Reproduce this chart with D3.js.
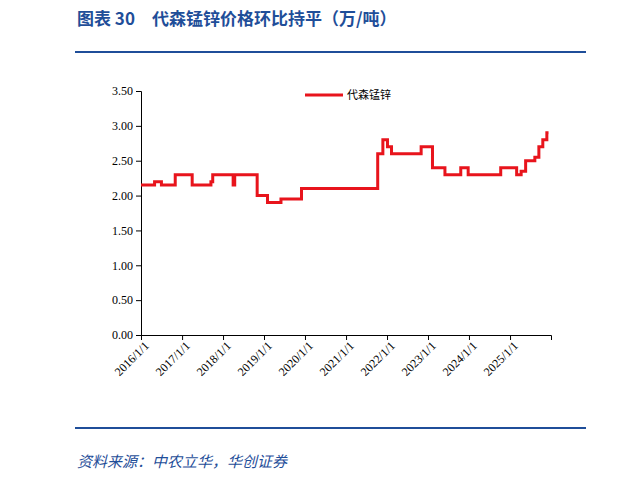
<!DOCTYPE html>
<html><head><meta charset="utf-8">
<script src="https://cdn.jsdelivr.net/npm/d3@7"></script>
<style>body{margin:0;background:#fff}</style>
</head><body>
<script>
// 代森锰锌 price steps (万/吨)
const dates = ['2016-01-01','2016-05-01','2016-07-01','2016-11-01','2017-04-01','2017-09-15','2017-10-01','2018-04-01','2018-04-15','2018-11-01','2019-02-01','2019-06-01','2019-12-01','2021-10-10','2021-11-25','2022-01-05','2022-02-10','2022-11-01','2023-02-10','2023-06-01','2023-10-20','2023-12-25','2024-10-10','2025-03-01','2025-04-10','2025-05-20','2025-08-10','2025-09-15','2025-10-20','2025-11-25','2025-12-10']
const prices = [2.15,2.2,2.15,2.3,2.15,2.2,2.3,2.15,2.3,2.0,1.9,1.95,2.1,2.6,2.8,2.7,2.6,2.7,2.4,2.3,2.4,2.3,2.4,2.3,2.35,2.5,2.55,2.7,2.8,2.9,2.9]
const yTicks = [0, 0.5, 1, 1.5, 2, 2.5, 3, 3.5]
const xTicks = ['2016/1/1','2017/1/1','2018/1/1','2019/1/1','2020/1/1','2021/1/1','2022/1/1','2023/1/1','2024/1/1','2025/1/1']

const parse = d3.timeParse('%Y-%m-%d')
const parseTick = d3.timeParse('%Y/%m/%d')
const data = dates.map((d, i) => ({ date: parse(d), value: prices[i] }))

const svg = d3.select('body').append('svg').attr('width', 620).attr('height', 481)
const blue = '#1f4e99'

svg.append('text').attr('x', 77).attr('y', 25).attr('fill', blue)
  .style('font-family', 'Noto Sans CJK SC').style('font-weight', 'bold').style('font-size', '17px')
  .text('图表 30　代森锰锌价格环比持平（万/吨）')
svg.append('line').attr('x1', 75).attr('x2', 586).attr('y1', 52).attr('y2', 52).attr('stroke', blue).attr('stroke-width', 2)
svg.append('line').attr('x1', 75).attr('x2', 586).attr('y1', 428).attr('y2', 428).attr('stroke', blue).attr('stroke-width', 2)
svg.append('text').attr('x', 77).attr('y', 467).attr('fill', blue)
  .style('font-family', 'Noto Sans CJK SC').style('font-style', 'italic').style('font-size', '15px')
  .text('资料来源：中农立华，华创证券')

const x = d3.scaleTime().domain([parse('2016-01-01'), parse('2026-01-01')]).range([141, 551])
const y = d3.scaleLinear().domain([0, 3.5]).range([335, 91])

svg.append('g').attr('transform', 'translate(141,0)')
  .call(d3.axisLeft(y).tickValues(yTicks).tickFormat(d3.format('.2f')).tickSizeOuter(0).tickSize(5))
  .call(g => g.selectAll('text').style('font-family', 'Times New Roman, Liberation Serif').style('font-size', '12px').attr('fill', '#000'))

svg.append('g').attr('transform', 'translate(0,335)')
  .call(d3.axisBottom(x).tickValues(xTicks.map(parseTick)).tickFormat((d, i) => xTicks[i]).tickSizeOuter(0).tickSize(5))
  .call(g => g.selectAll('text').attr('transform', 'rotate(-45)').attr('text-anchor', 'end')
    .attr('dx', '-0.2em').attr('dy', '0.5em')
    .style('font-family', 'Times New Roman, Liberation Serif').style('font-size', '12px').attr('fill', '#000'))

svg.append('path').datum(data)
  .attr('fill', 'none').attr('stroke', '#e8141c').attr('stroke-width', 3)
  .attr('d', d3.line().x(d => x(d.date)).y(d => y(d.value)).curve(d3.curveStepAfter))

svg.append('line').attr('x1', 305).attr('x2', 343).attr('y1', 95).attr('y2', 95).attr('stroke', '#e8141c').attr('stroke-width', 3)
svg.append('text').attr('x', 347).attr('y', 99).style('font-family', 'Noto Sans CJK SC').style('font-size', '11px').text('代森锰锌')
</script>
</body></html>
